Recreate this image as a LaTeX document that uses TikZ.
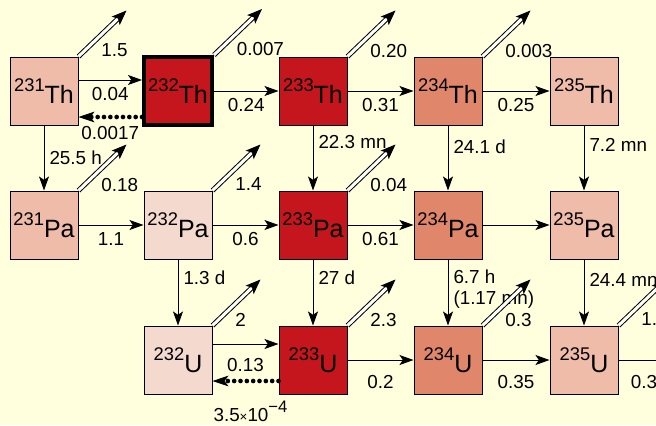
\documentclass[tikz,border=0pt]{standalone}
\usepackage{fontspec}
\setmainfont{Liberation Sans}
\usetikzlibrary{arrows.meta}

\definecolor{bgyellow}{RGB}{255,255,221}
\definecolor{hot}{RGB}{196,22,28}
\definecolor{warm}{RGB}{224,135,107}
\definecolor{mild}{RGB}{238,188,168}
\definecolor{pale}{RGB}{244,218,206}

% mass number + element symbol
\newcommand{\nuc}[2]{\raisebox{7pt}{\fontsize{11}{12}\selectfont #1}\fontsize{15}{18}\selectfont #2}

\begin{document}
\begin{tikzpicture}[
  x=0.6pt, y=-0.6pt,
  font=\fontsize{11.3}{13}\selectfont,
  box/.style={draw, line width=0.6pt, minimum size=40.8pt, inner sep=0pt},
  arrow/.style={-{Stealth[length=8.4pt, width=6pt, inset=2pt]}, line width=0.6pt},
  backarrow/.style={-{Stealth[length=9.6pt, width=6.4pt, inset=2.4pt, line width=0.6pt]},
    line width=2.8pt, line cap=round, dash pattern=on 0pt off 3.8pt},
  nout/.style={-{Stealth[length=9pt, width=7pt, inset=2pt]}, line width=0.6pt,
    double, double distance=1.8pt},
  nlab/.style={pos=0.5, anchor=north west, inner sep=1pt, xshift=-2pt, yshift=-5pt},
  lab/.style={midway, below=3.4pt, inner sep=1pt},
  decay/.style={right=2pt, inner sep=1pt}
]
\useasboundingbox (0,0) rectangle (656,425);
\fill[bgyellow] (0,0) rectangle (656,425);
\clip (0,0) rectangle (656,425);

% thorium row
\node[box, fill=mild] (th231) at (44,91) {\nuc{231}{Th}};
\node[box, fill=hot, line width=2.4pt] (th232) at (178,91) {\nuc{232}{Th}};
\node[box, fill=hot] (th233) at (313,91) {\nuc{233}{Th}};
\node[box, fill=warm] (th234) at (448,91) {\nuc{234}{Th}};
\node[box, fill=mild] (th235) at (584,91) {\nuc{235}{Th}};
% protactinium row
\node[box, fill=mild] (pa231) at (44,225) {\nuc{231}{Pa}};
\node[box, fill=pale] (pa232) at (178,225) {\nuc{232}{Pa}};
\node[box, fill=hot] (pa233) at (313,225) {\nuc{233}{Pa}};
\node[box, fill=warm] (pa234) at (448,225) {\nuc{234}{Pa}};
\node[box, fill=mild] (pa235) at (584,225) {\nuc{235}{Pa}};
% uranium row
\node[box, fill=pale] (u232) at (178,360) {\nuc{232}{U}};
\node[box, fill=hot] (u233) at (313,360) {\nuc{233}{U}};
\node[box, fill=warm] (u234) at (448,360) {\nuc{234}{U}};
\node[box, fill=mild] (u235) at (584,360) {\nuc{235}{U}};
\coordinate (u236) at (686,360);

% captures
\draw[arrow] ([yshift=6.6pt]th231.east) -- ([yshift=6.6pt]th232.west) node[lab]{0.04};
\draw[backarrow] ([yshift=-15.6pt]th232.west) -- ([yshift=-15.6pt]th231.east) node[lab]{0.0017};
\draw[arrow] (th232) -- (th233) node[lab]{0.24};
\draw[arrow] (th233) -- (th234) node[lab]{0.31};
\draw[arrow] (th234) -- (th235) node[lab]{0.25};
\draw[arrow] (pa231) -- (pa232) node[lab]{1.1};
\draw[arrow] (pa232) -- (pa233) node[lab]{0.6};
\draw[arrow] (pa233) -- (pa234) node[lab]{0.61};
\draw[arrow] (pa234) -- (pa235);
\draw[arrow] ([yshift=9.6pt]u232.east) -- ([yshift=9.6pt]u233.west) node[lab, below=4pt]{0.13};
\draw[backarrow] ([yshift=-12.6pt]u233.west) -- ([yshift=-12.6pt]u232.east)
  node[lab, below=6pt, xshift=3pt]{3.5{\fontsize{8}{9}\selectfont ×}10\raisebox{5.5pt}{\fontsize{10}{10}\selectfont −4}};
\draw[arrow] (u233) -- (u234) node[lab, below=4.5pt]{0.2};
\draw[arrow] (u234) -- (u235) node[lab, below=4.5pt]{0.35};
\draw[arrow] (u235) -- (u236) node[lab, below=4.5pt, xshift=-5pt]{0.3};

% beta decays
\draw[arrow] (th231) -- (pa231) node[pos=0.5, decay]{25.5 h};
\draw[arrow] (th233) -- (pa233) node[pos=0.26, decay]{22.3 mn};
\draw[arrow] (th234) -- (pa234) node[pos=0.32, decay]{24.1 d};
\draw[arrow] (th235) -- (pa235) node[pos=0.3, decay]{7.2 mn};
\draw[arrow] (pa232) -- (u232) node[pos=0.28, decay]{1.3 d};
\draw[arrow] (pa233) -- (u233) node[pos=0.27, decay]{27 d};
\draw[arrow] (pa234) -- (u234) node[pos=0.45, decay, align=left, font=\fontsize{11.3}{13}\selectfont]{6.7 h\\(1.17 mn)};
\draw[arrow] (pa235) -- (u235) node[pos=0.31, decay]{24.4 mn};

% (n,2n) outputs
\draw[nout] (th231.north east) -- ++(48,-46) node[nlab]{1.5};
\draw[nout] (th232.north east) -- ++(48,-46) node[nlab]{0.007};
\draw[nout] (th233.north east) -- ++(48,-46) node[nlab]{0.20};
\draw[nout] (th234.north east) -- ++(48,-46) node[nlab]{0.003};
\draw[nout] (pa231.north east) -- ++(48,-46) node[nlab]{0.18};
\draw[nout] (pa232.north east) -- ++(48,-46) node[nlab]{1.4};
\draw[nout] (pa233.north east) -- ++(48,-46) node[nlab]{0.04};
\draw[nout] (u232.north east) -- ++(48,-46) node[nlab]{2};
\draw[nout] (u233.north east) -- ++(48,-46) node[nlab]{2.3};
\draw[nout] (u234.north east) -- ++(48,-46) node[nlab]{0.3};
\draw[nout] (u235.north east) -- ++(48,-46) node[nlab]{1.5};
\end{tikzpicture}
\end{document}
